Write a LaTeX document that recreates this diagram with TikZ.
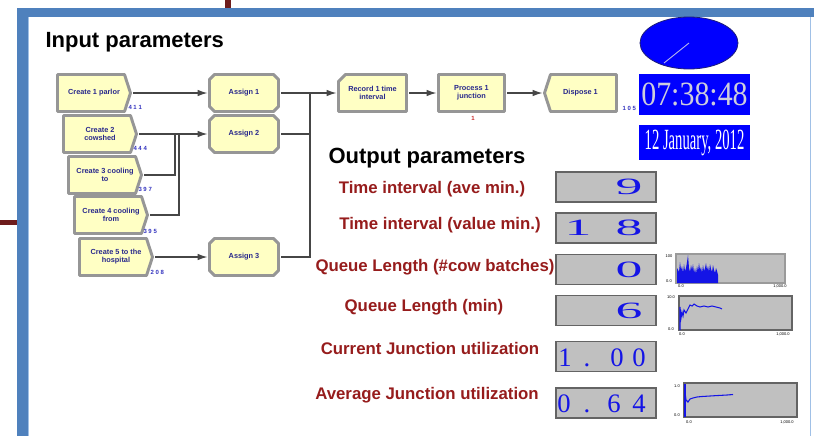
\documentclass[tikz,border=0pt]{standalone}
\usepackage{fontspec}
\setmainfont{Liberation Sans}
\newfontfamily\clockfont{Liberation Serif}
\usetikzlibrary{shapes.geometric,backgrounds,arrows.meta,calc}

\definecolor{framebl}{RGB}{79,129,189}
\definecolor{frameedge}{RGB}{160,192,230}
\definecolor{darkred}{RGB}{110,28,28}
\definecolor{modyel}{RGB}{255,255,196}
\definecolor{modgray}{RGB}{150,150,150}
\definecolor{modtxt}{RGB}{40,40,140}
\definecolor{cntblue}{RGB}{50,50,190}
\definecolor{cntred}{RGB}{200,40,40}
\definecolor{connline}{RGB}{70,70,70}
\definecolor{lblred}{RGB}{150,28,28}
\definecolor{valgray}{RGB}{192,192,192}
\definecolor{valedge}{RGB}{100,100,100}
\definecolor{digblue}{RGB}{20,20,230}
\definecolor{clockbl}{RGB}{0,0,255}
\definecolor{clockedge}{RGB}{30,30,120}
\definecolor{handcol}{RGB}{175,175,235}
\definecolor{timetxt}{RGB}{205,205,220}

\tikzset{every picture/.style={line width=0.75pt}}

\begin{document}
\begin{tikzpicture}[x=0.75pt,y=0.75pt,yscale=-1,xscale=1,
  modnode/.style={font=\fontsize{5.5}{6}\selectfont\bfseries, text=modtxt, align=center, inner sep=0pt, minimum height=27pt},
  modbox/.style={fill=modyel, draw=modgray, line width=2.2pt, line join=round},
  countlbl/.style={font=\fontsize{4.5}{5}\selectfont\bfseries, text=cntblue, inner sep=0pt},
  conn/.style={draw=connline, line width=0.9pt},
  arr/.style={-{Latex[length=7.5pt,width=5pt]}, shorten >=1.5pt},
  headline/.style={font=\fontsize{16.5}{18}\selectfont\bfseries, inner sep=0pt, anchor=west},
  outlbl/.style={font=\fontsize{12.6}{14}\selectfont\bfseries, text=lblred, inner sep=0pt},
  valbox/.style={draw=valedge, fill=valgray, line width=1.2pt, minimum width=75pt, minimum height=22.5pt, inner sep=0pt},
  bigdig/.style={font=\clockfont\fontsize{17.5}{18}\selectfont, text=digblue, inner sep=0pt},
  thindig/.style={font=\clockfont\fontsize{20}{20}\selectfont, text=digblue, inner sep=0pt, anchor=base},
  plotbox/.style={draw=valedge, fill=valgray, line width=1.2pt, inner sep=0pt},
  axlbl/.style={font=\fontsize{3}{3}\selectfont, inner sep=0pt}
]
\useasboundingbox (0,0) rectangle (814,436);

%Frame
\fill[framebl] (17,8) rectangle (814,17);
\fill[framebl] (17,8) rectangle (28,436);
\draw[frameedge, line width=1] (28.5,17) -- (28.5,436);
\draw[frameedge, line width=1] (810.5,17) -- (810.5,436);
\fill[darkred] (225,0) rectangle (231,8);
\fill[darkred] (0,220) rectangle (17,225);

% Text Node
\node[headline] (inhead) at (45,42) {Input parameters};
\node[headline] (outhead) at (328,158) {Output parameters};

%Modules
\node[modnode, minimum width=54pt] (cre1) at (94,93) {Create 1 parlor};
\node[modnode, minimum width=54pt] (cre2) at (100,134) {Create 2\\cowshed};
\node[modnode, minimum width=54pt] (cre3) at (105,175) {Create 3 cooling\\to};
\node[modnode, minimum width=54pt] (cre4) at (111,215) {Create 4 cooling\\from};
\node[modnode, minimum width=54pt] (cre5) at (116,257) {Create 5 to the\\hospital};
\node[modnode, minimum width=51pt] (asg1) at (244,93) {Assign 1};
\node[modnode, minimum width=51pt] (asg2) at (244,134) {Assign 2};
\node[modnode, minimum width=51pt] (asg3) at (244,257) {Assign 3};
\node[modnode, minimum width=50.25pt] (rec) at (372.5,93) {Record 1 time\\interval};
\node[modnode, minimum width=48.75pt] (proc) at (471.5,93) {Process 1\\junction};
\node[modnode, minimum width=53.25pt] (disp) at (580.5,93) {Dispose 1};

\begin{scope}[on background layer]
\foreach \m in {cre1,cre2,cre3,cre4,cre5}
  \draw[modbox] (\m.north west) -- ($(\m.north east)+(-6,0)$) -- (\m.east) -- ($(\m.south east)+(-6,0)$) -- (\m.south west) -- cycle;
\foreach \m in {asg1,asg2,asg3}
  \draw[modbox] ($(\m.north west)+(5,0)$) -- ($(\m.north east)+(-5,0)$) -- ($(\m.north east)+(0,5)$) -- ($(\m.south east)+(0,-5)$) -- ($(\m.south east)+(-5,0)$) -- ($(\m.south west)+(5,0)$) -- ($(\m.south west)+(0,-5)$) -- ($(\m.north west)+(0,5)$) -- cycle;
\draw[modbox] ($(rec.north west)+(0,7)$) -- ($(rec.north west)+(7,0)$) -- (rec.north east) -- (rec.south east) -- (rec.south west) -- cycle;
\draw[modbox] (proc.north west) rectangle (proc.south east);
\draw[modbox] (disp.west) -- ($(disp.north west)+(6,0)$) -- (disp.north east) -- (disp.south east) -- ($(disp.south west)+(6,0)$) -- cycle;
\end{scope}

% counters
\node[countlbl, anchor=west] (n1) at (128,107) {4 1 1};
\node[countlbl, anchor=west] (n2) at (133,148) {4 4 4};
\node[countlbl, anchor=west] (n3) at (138,189) {3 9 7};
\node[countlbl, anchor=west] (n4) at (143,231) {3 9 5};
\node[countlbl, anchor=west] (n5) at (150,272) {2 0 8};
\node[countlbl, anchor=west] (n6) at (622,108) {1 0 5};
\node[countlbl, text=cntred] (n7) at (473,118) {1};

%Connectors
\coordinate (jn3) at (175,134);
\coordinate (jn4) at (179,134);
\coordinate (mrg) at (310,93);
\draw[conn, arr, shorten <=2pt] (cre1.east) -- (asg1.west);
\draw[conn, arr, shorten <=2pt] (cre2.east) -- (asg2.west);
\draw[conn, shorten <=2pt] (cre3.east) -| (jn3);
\draw[conn, shorten <=2pt] (cre4.east) -| (jn4);
\draw[conn, arr, shorten <=2pt] (cre5.east) -- (asg3.west);
\draw[conn, arr, shorten <=2pt] (asg1.east) -- (rec.west);
\draw[conn, shorten <=2pt] (asg2.east) -| (mrg);
\draw[conn, shorten <=2pt] (asg3.east) -| (mrg);
\draw[conn, arr, shorten <=2pt] (rec.east) -- (proc.west);
\draw[conn, arr, shorten <=2pt] (proc.east) -- (disp.west);

%Clock
\node[ellipse, fill=clockbl, draw=clockedge, line width=0.6pt, minimum width=73.5pt, minimum height=39pt] (clock) at (689,43) {};
\draw[handcol, line width=0.7pt] (clock.center) -- ++(-25,20);
\node[fill=clockbl, minimum width=83.25pt, minimum height=30.75pt, inner sep=0pt, text=timetxt, font=\clockfont\fontsize{25.5}{26}\selectfont] (timebox) at (694.5,94.5) {\scalebox{0.88}[1]{07:38:48}};
\node[fill=clockbl, minimum width=83.25pt, minimum height=26.25pt, inner sep=0pt, text=white, font=\clockfont\fontsize{22}{22}\selectfont] (datebox) at (694.5,142.5) {\scalebox{0.5}[1]{12 January, 2012}};

%Output labels
\node[outlbl] (lbl1) at (432,189) {Time interval (ave min.)};
\node[outlbl] (lbl2) at (440,225) {Time interval (value min.)};
\node[outlbl] (lbl3) at (435,267) {Queue Length (\#cow batches)};
\node[outlbl] (lbl4) at (424,307) {Queue Length (min)};
\node[outlbl] (lbl5) at (430,348) {Current Junction utilization};
\node[outlbl] (lbl6) at (427,395) {Average Junction utilization};

%Value boxes
\node[valbox] (val1) at (606,187) {};
\node[valbox] (val2) at (606,228) {};
\node[valbox] (val3) at (606,269.5) {};
\node[valbox] (val4) at (606,310.5) {};
\node[valbox] (val5) at (606,356.5) {};
\node[valbox] (val6) at (606,403) {};
\node[bigdig] (dg1) at (629,187) {\scalebox{2.3}[1]{9}};
\node[bigdig] (dg2a) at (578,228) {\scalebox{2.3}[1]{1}};
\node[bigdig] (dg2b) at (629,228) {\scalebox{2.3}[1]{8}};
\node[bigdig] (dg3) at (629,269.5) {\scalebox{2.3}[1]{0}};
\node[bigdig] (dg4) at (629,310.5) {\scalebox{2.3}[1]{6}};
\node[thindig] (dg5a) at (565,366) {1};
\node[thindig] (dg5b) at (587,366) {.};
\node[thindig] (dg5c) at (617,366) {0};
\node[thindig] (dg5d) at (639,366) {0};
\node[thindig] (dg6a) at (564,412) {0};
\node[thindig] (dg6b) at (587,412) {.};
\node[thindig] (dg6c) at (614,412) {6};
\node[thindig] (dg6d) at (639,412) {4};

%Plots
\node[plotbox, draw=valgray!80!black, minimum width=81.75pt, minimum height=21.75pt] (plt1) at (730.5,268.5) {};
\node[plotbox, minimum width=84.75pt, minimum height=25.5pt] (plt2) at (735.5,313) {};
\node[plotbox, minimum width=84.75pt, minimum height=25.5pt] (plt3) at (740.5,400) {};
\fill[digblue] (677,283) -- (677,268) -- (679,272) -- (680,262) -- (681,270) -- (682,266) -- (683,273) -- (684,264) -- (685,271) -- (686,268) -- (687,262) -- (688,255) -- (689,268) -- (690,272) -- (691,265) -- (692,270) -- (693,264) -- (694,273) -- (695,268) -- (696,274) -- (697,266) -- (698,271) -- (699,263) -- (700,270) -- (701,267) -- (702,273) -- (703,265) -- (704,271) -- (705,268) -- (706,263) -- (707,270) -- (708,266) -- (709,272) -- (710,264) -- (711,269) -- (712,272) -- (713,265) -- (714,270) -- (715,273) -- (716,268) -- (717,271) -- (718,275) -- (718,283) -- cycle;
\draw[digblue, line width=0.8] (680,330) -- (680,307) -- (681,318) -- (682,312) -- (683,316) -- (684,310) -- (686,313) -- (688,309) -- (690,305) -- (692,306) -- (694,304) -- (697,306) -- (700,307) -- (704,306) -- (708,307) -- (712,306) -- (716,307) -- (720,308) -- (722,309);
\draw[digblue, line width=0.8] (685,384) -- (685,417);
\draw[digblue, line width=0.8] (685,392) -- (686,400) -- (688,402) -- (690,399) -- (693,398) -- (697,397) -- (702,396.5) -- (710,396) -- (718,395.5) -- (727,395) -- (733,394.5);
\node[axlbl] (ax1a) at (669,256) {100};
\node[axlbl] (ax1b) at (669,281) {0.0};
\node[axlbl] (ax1c) at (681,286) {0.0};
\node[axlbl] (ax1d) at (780,286) {1,000.0};
\node[axlbl] (ax2a) at (671,297) {10.0};
\node[axlbl] (ax2b) at (671,329) {0.0};
\node[axlbl] (ax2c) at (682,334) {0.0};
\node[axlbl] (ax2d) at (783,334) {1,000.0};
\node[axlbl] (ax3a) at (677,386) {1.0};
\node[axlbl] (ax3b) at (677,415) {0.0};
\node[axlbl] (ax3c) at (689,422) {0.0};
\node[axlbl] (ax3d) at (787,422) {1,000.0};

\end{tikzpicture}
\end{document}
